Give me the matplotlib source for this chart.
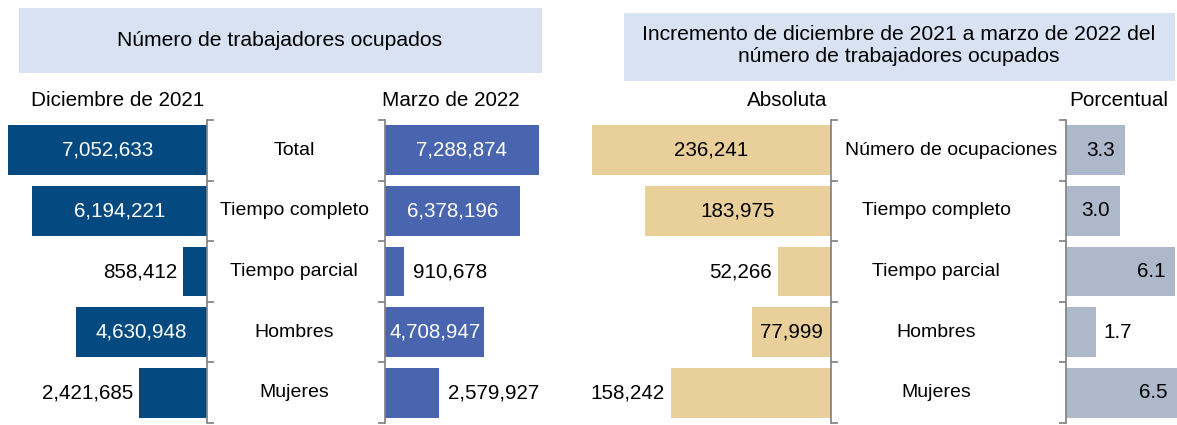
import matplotlib
matplotlib.use("Agg")
import matplotlib.pyplot as plt
from matplotlib.patches import Rectangle

plt.rcParams['font.family'] = ['Liberation Sans', 'DejaVu Sans']

categories_left = ["Total", "Tiempo completo", "Tiempo parcial", "Hombres", "Mujeres"]
categories_right = ["Número de ocupaciones", "Tiempo completo", "Tiempo parcial", "Hombres", "Mujeres"]
dic_2021 = [7052633, 6194221, 858412, 4630948, 2421685]
mar_2022 = [7288874, 6378196, 910678, 4708947, 2579927]
inc_abs = [236241, 183975, 52266, 77999, 158242]
inc_pct = [3.3, 3.0, 6.1, 1.7, 6.5]

title_left = "Número de trabajadores ocupados"
title_right = "Incremento de diciembre de 2021 a marzo de 2022 del\nnúmero de trabajadores ocupados"
sub1, sub2, sub3, sub4 = "Diciembre de 2021", "Marzo de 2022", "Absoluta", "Porcentual"

W, H = 1177, 425
fig = plt.figure(figsize=(W / 100, H / 100), dpi=100)

def px_axes(x0, x1, y0, y1):
    return fig.add_axes([x0 / W, 1 - y1 / H, (x1 - x0) / W, (y1 - y0) / H])

def fx(x):
    return x / W

def fy(y):
    return 1 - y / H

FS = 14.9
TFS = 15.2
CFS = 14
SPINE = "#7f7f7f"
BAR_H = 0.82

# title boxes
fig.patches.append(Rectangle((fx(19), fy(73)), fx(542) - fx(19), fy(8) - fy(73),
                             transform=fig.transFigure, facecolor="#d9e2f3", edgecolor="none", zorder=0))
fig.text(fx(280), fy(41), title_left, ha="center", va="center", fontsize=TFS)
fig.patches.append(Rectangle((fx(624), fy(81)), fx(1175) - fx(624), fy(13) - fy(81),
                             transform=fig.transFigure, facecolor="#d9e2f3", edgecolor="none", zorder=0))
fig.text(fx(899), fy(46), title_right, ha="center", va="center", fontsize=TFS, linespacing=1.2)

fig.text(fx(118), fy(100), sub1, ha="center", va="center", fontsize=FS)
fig.text(fx(451), fy(100), sub2, ha="center", va="center", fontsize=FS)
fig.text(fx(827), fy(101), sub3, ha="right", va="center", fontsize=FS)
fig.text(fx(1119), fy(101), sub4, ha="center", va="center", fontsize=FS)

Y0, Y1 = 120, 423

def setup(ax, side):
    ax.set_ylim(4.5, -0.5)
    for s in ["top", "bottom", "left", "right"]:
        ax.spines[s].set_visible(False)
    ax.spines[side].set_visible(True)
    ax.spines[side].set_color(SPINE)
    ax.spines[side].set_linewidth(1.2)
    ax.set_xticks([])
    ax.set_yticks([i - 0.5 for i in range(6)])
    ax.set_yticklabels([])
    ax.tick_params(axis="y", length=5, color=SPINE, width=1.2, direction="out",
                   left=(side == "left"), right=(side == "right"))
    ax.patch.set_alpha(0)

ypos = list(range(5))

# panel 1
ax1 = px_axes(1, 207, Y0, Y1)
ax1.barh(ypos, dic_2021, height=BAR_H, color="#044a80")
ax1.set_xlim(7.3e6, 0)
setup(ax1, "right")
mode1 = ["in", "in", "out", "in", "out"]
for y, v, m in zip(ypos, dic_2021, mode1):
    t = f"{v:,}"
    if m == "in":
        ax1.text(v / 2, y, t, ha="center", va="center", color="white", fontsize=FS)
    else:
        ax1.annotate(t, (v, y), xytext=(-5, 0), textcoords="offset pixels",
                     ha="right", va="center", fontsize=FS)

# panel 2
ax2 = px_axes(385, 575, Y0, Y1)
ax2.barh(ypos, mar_2022, height=BAR_H, color="#4a65b0")
ax2.set_xlim(0, 9.0e6)
setup(ax2, "left")
mode2 = ["in", "in", "out", "in", "out"]
for y, v, m in zip(ypos, mar_2022, mode2):
    t = f"{v:,}"
    if m == "in":
        ax2.text(v / 2, y, t, ha="center", va="center", color="white", fontsize=FS)
    else:
        ax2.annotate(t, (v, y), xytext=(9, 0), textcoords="offset pixels",
                     ha="left", va="center", fontsize=FS)

# panel 3
ax3 = px_axes(588, 831, Y0, Y1)
ax3.barh(ypos, inc_abs, height=BAR_H, color="#e9cf9a")
ax3.set_xlim(240000, 0)
setup(ax3, "right")
mode3 = ["in", "in", "out", "in", "out"]
for y, v, m in zip(ypos, inc_abs, mode3):
    t = f"{v:,}"
    if m == "in":
        ax3.text(v / 2, y, t, ha="center", va="center", color="black", fontsize=FS)
    else:
        ax3.annotate(t, (v, y), xytext=(-6, 0), textcoords="offset pixels",
                     ha="right", va="center", fontsize=FS)

# panel 4
ax4 = px_axes(1066, 1177, Y0, Y1)
ax4.barh(ypos, inc_pct, height=BAR_H, color="#adb9cb")
ax4.set_xlim(0, 6.2)
setup(ax4, "left")
mode4 = ["end", "end", "end", "out", "end"]
for y, v, m in zip(ypos, inc_pct, mode4):
    t = f"{v:.1f}"
    if m == "end":
        ax4.annotate(t, (min(v, 6.2), y), xytext=(-10, 0), textcoords="offset pixels",
                     ha="right", va="center", fontsize=FS, annotation_clip=False)
    else:
        ax4.annotate(t, (v, y), xytext=(7, 0), textcoords="offset pixels",
                     ha="left", va="center", fontsize=FS)

# category labels
for i, c in enumerate(categories_left):
    yy = Y0 + (Y1 - Y0) * (i + 0.5) / 5
    fig.text(fx(294), fy(yy), c, ha="center", va="center", fontsize=CFS)
for i, c in enumerate(categories_right):
    yy = Y0 + (Y1 - Y0) * (i + 0.5) / 5
    xc = 951 if i == 0 else 936
    fig.text(fx(xc), fy(yy), c, ha="center", va="center", fontsize=CFS)

fig.savefig("out.png", dpi=100)
